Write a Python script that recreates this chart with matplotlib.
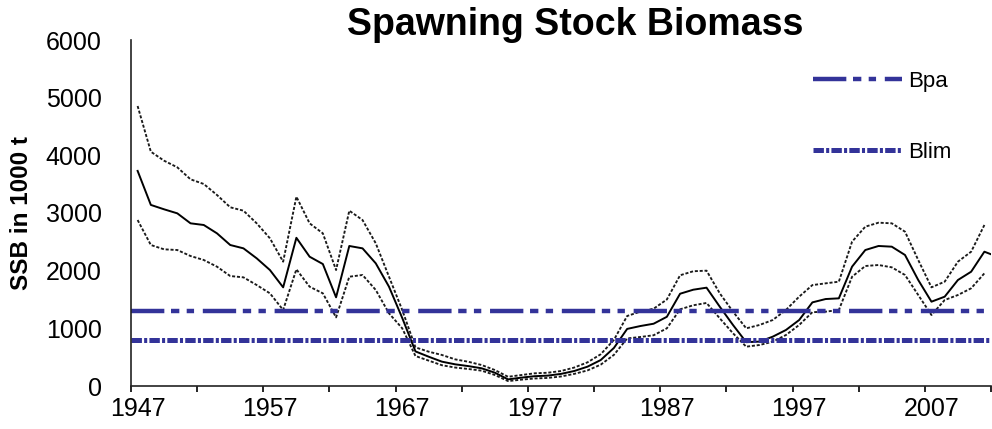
import numpy as np
import matplotlib
matplotlib.use("Agg")
import matplotlib.pyplot as plt

plt.rcParams['font.family'] = ['Liberation Sans', 'DejaVu Sans']
plt.rcParams['lines.scale_dashes'] = False

# SSB estimates (1000 t)
years = np.arange(1947, 2013)
ssb = [3730, 3140, 3064, 2994, 2821, 2792, 2647, 2445, 2387, 2214,
       2011, 1711, 2570, 2242, 2115, 1538, 2428, 2387, 2127, 1722,
       1180, 600, 508, 422, 376, 345, 307, 231, 115, 145,
       170, 180, 210, 260, 335, 450, 660, 990, 1040, 1080,
       1200, 1600, 1670, 1705, 1375, 1058, 760, 770, 855, 971,
       1144, 1450, 1508, 1520, 2070, 2358, 2428, 2416, 2272, 1838,
       1462, 1549, 1838, 1982, 2329, 2240]
upper = [4855, 4063, 3907, 3792, 3584, 3503, 3312, 3099, 3040, 2821,
         2561, 2156, 3283, 2821, 2647, 2011, 3040, 2878, 2474, 1895,
         1318, 670, 595, 538, 462, 420, 364, 277, 160, 190,
         220, 230, 260, 320, 410, 550, 800, 1214, 1290, 1340,
         1500, 1920, 1990, 2000, 1607, 1289, 1000, 1058, 1144, 1318,
         1549, 1750, 1780, 1809, 2503, 2763, 2832, 2821, 2676, 2185,
         1711, 1809, 2156, 2329, 2792, np.nan]
lower = [2878, 2445, 2370, 2358, 2254, 2185, 2069, 1907, 1884, 1751,
         1607, 1318, 2023, 1722, 1607, 1190, 1895, 1925, 1665, 1260,
         1000, 520, 440, 360, 320, 295, 266, 191, 85, 110,
         130, 140, 165, 210, 270, 370, 540, 825, 850, 880,
         1000, 1330, 1400, 1440, 1174, 914, 682, 711, 768, 884,
         1058, 1280, 1289, 1318, 1895, 2081, 2098, 2058, 1925, 1578,
         1231, 1491, 1578, 1694, 1954, np.nan]
bpa = 1300
blim = 800

blue = '#333399'

fig = plt.figure(figsize=(9.92, 4.29), dpi=100)
ax = fig.add_axes([131 / 992, 1 - 386 / 429, 860 / 992, 346 / 429])

ax.plot(years, upper, color='#1a1a1a', lw=1.35, dashes=(2.2, 1.3))
ax.plot(years, lower, color='#1a1a1a', lw=1.35, dashes=(2.2, 1.3))
ax.plot(years, ssb, color='black', lw=1.4)

ax.axhline(bpa, color=blue, lw=3.2, dashes=(24, 4.8, 6, 5.3, 5.3, 6.3),
           dash_capstyle='butt', label='Bpa')
ax.axhline(blim, color=blue, lw=3.6, dashes=(7.5, 1.6, 2.2, 1.6),
           dash_capstyle='butt', label='Blim')

ax.set_xlim(1946.5, 2011.5)
ax.set_ylim(0, 6000)
ax.set_yticks(range(0, 6001, 1000))
ax.set_xticks(range(1947, 2011, 10))
ax.set_xticks(np.arange(1946.5, 2012, 5), minor=True)

ax.tick_params(axis='y', length=0, pad=21, labelsize=18)
ax.tick_params(axis='x', which='major', length=0, pad=8, labelsize=18)
ax.tick_params(axis='x', which='minor', length=4.5, width=1.2,
               direction='out', color='black')

for s in ['top', 'right']:
    ax.spines[s].set_visible(False)
for s in ['left', 'bottom']:
    ax.spines[s].set_linewidth(1.2)
    ax.spines[s].set_color('#222222')

ax.set_ylabel('SSB in 1000 t', fontsize=17.5, fontweight='bold')
ax.yaxis.set_label_coords(-0.114, 0.5)

fig.text(575 / 992, 1 - 25 / 429, 'Spawning Stock Biomass', fontsize=27,
         fontweight='bold', ha='center', va='center')

ax.legend(loc='upper left', bbox_to_anchor=(813 / 992, 1 - 71 / 429),
          bbox_transform=fig.transFigure, frameon=False, fontsize=16,
          handlelength=4.0, handletextpad=0.3, labelspacing=2.25,
          borderpad=0, borderaxespad=0)

fig.savefig('out.png', dpi=100)
